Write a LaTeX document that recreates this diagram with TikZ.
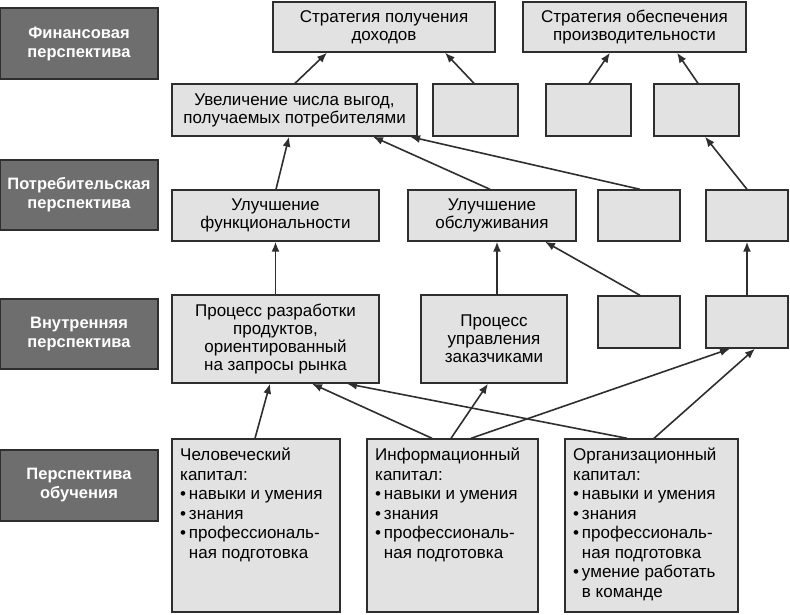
\documentclass[tikz,border=0pt]{standalone}
\usepackage{fontspec}
\setmainfont{Liberation Sans}
\usetikzlibrary{arrows.meta}
\definecolor{boxfill}{HTML}{E2E2E2}
\definecolor{labfill}{HTML}{6E6E6E}
\definecolor{edge}{HTML}{2E2E2E}
\begin{document}
\begin{tikzpicture}[x=1pt,y=-1pt,
  box/.style={draw=edge,line width=1.4pt,fill=boxfill,inner sep=0pt,align=center,
     font=\fontsize{17}{18}\selectfont},
  lab/.style={draw=edge,line width=1.2pt,fill=labfill,inner sep=0pt,align=center,text=white,
     minimum width=158pt,font=\bfseries\fontsize{16.5}{19}\selectfont},
  txt/.style={anchor=north west,align=left,inner sep=0pt,font=\fontsize{17}{19.5}\selectfont},
  arr/.style={draw=edge,line width=1.6pt,-{Latex[length=10pt,width=8pt]}}]
\useasboundingbox (0,0) rectangle (790,614);
% left labels
\node[lab,minimum height=71pt] (fin) at (79,43.5) {Финансовая\\перспектива};
\node[lab,minimum height=70pt] (potr) at (79,195) {Потребительская\\перспектива};
\node[lab,minimum height=70pt] (vnut) at (79,334) {Внутренняя\\перспектива};
\node[lab,minimum height=71pt] (obuch) at (79,485.5) {Перспектива\\обучения};
% row 1
\node[box,minimum width=222pt,minimum height=50pt] (s1) at (384,27) {Стратегия получения\\доходов};
\node[box,minimum width=223pt,minimum height=50pt] (s2) at (634.5,27) {Стратегия обеспечения\\производительности};
% row 2
\node[box,minimum width=245pt,minimum height=52pt] (u) at (294.5,110) {Увеличение числа выгод,\\получаемых потребителями};
\node[box,minimum width=85pt,minimum height=52pt] (b1) at (475.5,110) {};
\node[box,minimum width=85pt,minimum height=52pt] (b2) at (588.5,110) {};
\node[box,minimum width=85pt,minimum height=52pt] (b3) at (696.5,110) {};
% row 3
\node[box,minimum width=207pt,minimum height=51pt] (f) at (275.5,215.5) {Улучшение\\функциональности};
\node[box,minimum width=168pt,minimum height=51pt] (o) at (492,215.5) {Улучшение\\обслуживания};
\node[box,minimum width=82pt,minimum height=51pt] (b4) at (639,215.5) {};
\node[box,minimum width=82pt,minimum height=51pt] (b5) at (747,215.5) {};
% row 4
\node[box,minimum width=207pt,minimum height=88pt] (p) at (275.5,339) {Процесс разработки\\продуктов,\\ориентированный\\на запросы рынка};
\node[box,minimum width=146pt,minimum height=88pt] (m) at (494,339) {Процесс\\управления\\заказчиками};
\node[box,minimum width=82pt,minimum height=52pt] (b6) at (639,322) {};
\node[box,minimum width=82pt,minimum height=52pt] (b7) at (747,322) {};
% row 5
\node[box,minimum width=168pt,minimum height=173pt] (c1) at (256,525.5) {};
\node[box,minimum width=171pt,minimum height=173pt] (c2) at (452.5,525.5) {};
\node[box,minimum width=173pt,minimum height=173pt] (c3) at (651.5,525.5) {};
\node[txt] (t1) at (180,448) {Человеческий\\капитал:\\\textbullet\,навыки и умения\\\textbullet\,знания\\\textbullet\,профессиональ-\\\hphantom{\textbullet\,}ная подготовка};
\node[txt] (t2) at (375,448) {Информационный\\капитал:\\\textbullet\,навыки и умения\\\textbullet\,знания\\\textbullet\,профессиональ-\\\hphantom{\textbullet\,}ная подготовка};
\node[txt] (t3) at (573,448) {Организационный\\капитал:\\\textbullet\,навыки и умения\\\textbullet\,знания\\\textbullet\,профессиональ-\\\hphantom{\textbullet\,}ная подготовка\\\textbullet\,умение работать\\\hphantom{\textbullet\,}в команде};
% arrows
\draw[arr] ([xshift=-1pt]c1.north) -- ([xshift=-5.5pt]p.south);
\draw[arr] ([xshift=-20.5pt]c2.north) -- ([xshift=36.5pt]p.south);
\draw[arr] ([xshift=-1.5pt]c2.north) -- ([xshift=-6pt]m.south);
\draw[arr] ([xshift=18.5pt]c2.north) -- ([xshift=-17pt]b7.south);
\draw[arr] ([xshift=-24.5pt]c3.north) -- ([xshift=71.5pt]p.south);
\draw[arr] ([xshift=2.5pt]c3.north) -- ([xshift=8pt]b7.south);
\draw[arr] (p.north) -- (p.north |- f.south);
\draw[arr] ([xshift=3pt]m.north) -- ([xshift=5pt]o.south);
\draw[arr] ([xshift=1pt]b6.north) -- ([xshift=53pt]o.south);
\draw[arr] (b7.north) -- (b5.south);
\draw[arr] ([xshift=0.5pt]f.north) -- ([xshift=-5.5pt]u.south);
\draw[arr] ([xshift=-2pt]o.north) -- ([xshift=78.5pt]u.south);
\draw[arr] ([xshift=1pt]b4.north) -- ([xshift=115.5pt]u.south);
\draw[arr] (b5.north) -- ([xshift=8.5pt]b3.south);
\draw[arr] ([xshift=0.5pt]u.north) -- ([xshift=-57pt]s1.south);
\draw[arr] ([xshift=-1.5pt]b1.north) -- ([xshift=61pt]s1.south);
\draw[arr] ([xshift=0.5pt]b2.north) -- ([xshift=-24.5pt]s2.south);
\draw[arr] ([xshift=1.5pt]b3.north) -- ([xshift=42.5pt]s2.south);
\end{tikzpicture}
\end{document}
